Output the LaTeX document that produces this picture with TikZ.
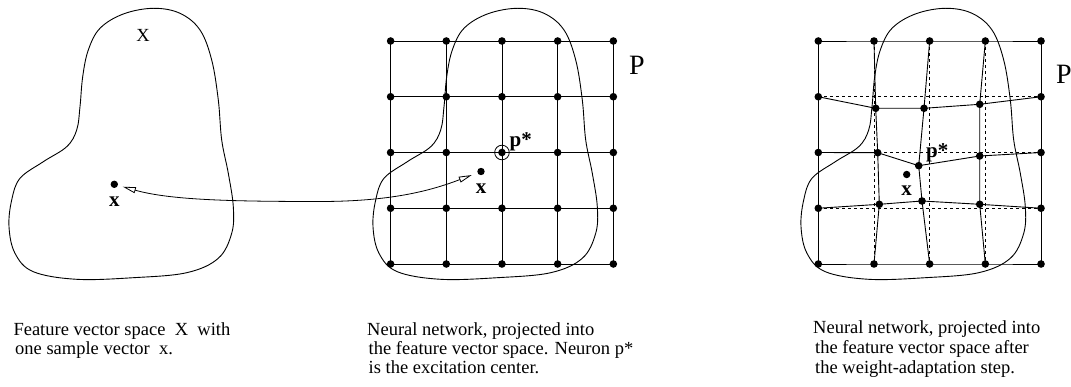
\documentclass[tikz,border=0pt]{standalone}
\usepackage{fontspec}
\setmainfont{Liberation Serif}
\usetikzlibrary{arrows.meta}
\newcommand\drawblob[1]{%
  \draw[blob,shift={(#1,0)}] plot[smooth cycle,tension=0.6] coordinates {
    (153.3,8.3) (123.3,14) (100,28.3) (88.3,50) (82.7,76.7) (80,106.7) (76.7,130)
    (66.7,146.7) (43.3,161.7) (20,178.3) (11.7,200) (9,226.7) (15,253.3) (33.3,271.7)
    (76.7,279.3) (133.3,277.7) (186.7,272.7) (218.3,258.3) (231.7,233.3) (233.3,206.7)
    (228.3,173.3) (221.7,140) (218.3,100) (211.7,60) (200,30) (180,13.3)};}
\begin{document}
\begin{tikzpicture}[x=1pt,y=-1pt,
  dotnode/.style={circle,fill=black,inner sep=0pt,minimum size=7.6pt},
  gl/.style={line width=0.9pt},
  dl/.style={line width=0.8pt,dash pattern=on 3pt off 3pt},
  blob/.style={line width=0.9pt},
  captxt/.style={anchor=base west,inner sep=0pt,font=\fontsize{18.5}{19}\selectfont},
  lbl/.style={inner sep=0pt,font=\fontsize{21}{21}\selectfont\bfseries},
  bigtxt/.style={anchor=base west,inner sep=0pt,font=\fontsize{28}{28}\selectfont},
  otip/.tip={Triangle[open,length=13pt,width=6pt]},
  conn/.style={line width=0.8pt,otip-otip,shorten <=6pt,shorten >=5pt}
]
\useasboundingbox (0,0) rectangle (1071,387);

% blobs
\drawblob{0}
\drawblob{364}
\drawblob{792}

% grids
\foreach \i in {0,...,4}{\foreach \j in {0,...,4}{
  \coordinate (m\i\j) at ({390.6+55.68*\i},{41+55.75*\j});
  \coordinate (g\i\j) at ({818.3+55.68*\i},{41+55.75*\j});
  \coordinate (r\i\j) at ({818.3+55.68*\i},{41+55.75*\j});
}}
\foreach \k in {0,...,4}{
  \draw[gl] (m\k0) -- (m\k4);
  \draw[gl] (m0\k) -- (m4\k);
}
\foreach \i in {0,...,4}{\foreach \j in {0,...,4}{\node[dotnode] (M\i\j) at (m\i\j) {};}}
\node[circle,draw,line width=0.8pt,minimum size=14.6pt,inner sep=0pt] (pc) at (m22) {};

% right grid: adapted inner nodes
\coordinate (r11) at (875.7,108.3);
\coordinate (r21) at (924,108.3);
\coordinate (r31) at (979.7,104.3);
\coordinate (r12) at (877.7,152.7);
\coordinate (r22) at (918.7,165.7);
\coordinate (r32) at (979.7,156);
\coordinate (r13) at (879.3,204.3);
\coordinate (r23) at (922,201);
\coordinate (r33) at (979.7,204.3);
\foreach \k in {1,2,3}{
  \draw[dl] (g\k0) -- (g\k4);
  \draw[dl] (g0\k) -- (g4\k);
}
\foreach \k in {0,...,4}{
  \draw[gl] (r\k0) -- (r\k1) -- (r\k2) -- (r\k3) -- (r\k4);
  \draw[gl] (r0\k) -- (r1\k) -- (r2\k) -- (r3\k) -- (r4\k);
}
\foreach \i in {0,...,4}{\foreach \j in {0,...,4}{\node[dotnode] (R\i\j) at (r\i\j) {};}}

% sample points
\node[dotnode,minimum size=7.4pt] (xL) at (114.3,184.3) {};
\node[dotnode,minimum size=7.4pt] (xM) at (481,171.5) {};
\node[dotnode,minimum size=7.4pt] (xR) at (906.7,174.5) {};
\coordinate (cA) at (430,191);
\coordinate (cB) at (390,201.5);
\coordinate (cM) at (320,201.5);
\coordinate (cC) at (230,201.5);
\coordinate (cD) at (170,200);
\draw[conn] (xM) .. controls (cA) and (cB) .. (cM) .. controls (cC) and (cD) .. (xL);

% labels
\node[anchor=base,inner sep=0pt,font=\fontsize{18.5}{19}\selectfont] (lX) at (143,41.7) {X};
\node[bigtxt] (lP1) at (629,75) {P};
\node[bigtxt] (lP2) at (1056,84) {P};
\node[lbl,anchor=base] (lxL) at (114.3,207) {x};
\node[lbl,anchor=base] (lxM) at (481,194) {x};
\node[lbl,anchor=base] (lxR) at (906.7,196) {x};
\node[lbl,anchor=base west] (lpM) at (509.5,146.7) {p*};
\node[lbl,anchor=base west] (lpR) at (926,158) {p*};

% captions
\node[captxt] (c1a) at (13.3,335) {Feature vector space\ \ X\ \ with};
\node[captxt] (c1b) at (15,354) {one sample vector\ \ x.};
\node[captxt] (c2a) at (367,335.5) {Neural network, projected into};
\node[captxt] (c2b) at (368.5,354.5) {the feature vector space. Neuron p*};
\node[captxt] (c2c) at (368.5,373) {is the excitation center.};
\node[captxt] (c3a) at (813,333.5) {Neural network, projected into};
\node[captxt] (c3b) at (815,353.5) {the feature vector space after};
\node[captxt] (c3c) at (815,373) {the weight-adaptation step.};
\end{tikzpicture}
\end{document}
